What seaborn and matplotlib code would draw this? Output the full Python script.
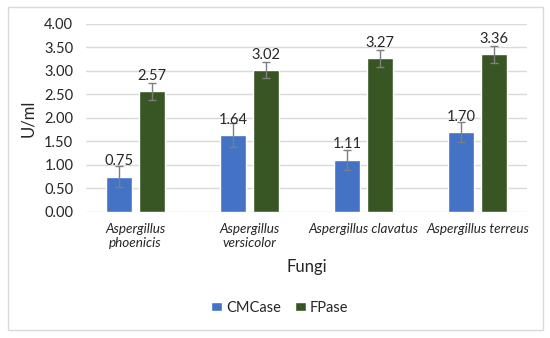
# importing packages
import seaborn as sns
import matplotlib.pyplot as plt
import pandas as pd
from matplotlib.patches import Rectangle

# chart data
fungi = ["Aspergillus\nphoenicis", "Aspergillus\nversicolor",
         "Aspergillus clavatus", "Aspergillus terreus"]
enzymes = ["CMCase", "FPase"]
cmcase = [0.75, 1.64, 1.11, 1.70]
fpase = [2.57, 3.02, 3.27, 3.36]
cmcase_err = [0.22, 0.25, 0.21, 0.22]
fpase_err = [0.18, 0.18, 0.18, 0.18]

df = pd.DataFrame({
    "Fungi": fungi * 2,
    "Enzyme": [enzymes[0]] * 4 + [enzymes[1]] * 4,
    "U/ml": cmcase + fpase,
})

sns.set_style("white")
plt.rcParams["font.family"] = ["Lato", "DejaVu Sans"]

fig = plt.figure(figsize=(5.5, 3.38), dpi=100)
ax = fig.add_axes([0.156, 0.373, 0.802, 0.556])

# outer frame like the Excel chart area
fig.patches.append(Rectangle((8 / 550, 8 / 338), 535 / 550, 323 / 338,
                             transform=fig.transFigure, fill=False,
                             edgecolor="#d9d9d9", linewidth=1))

sns.barplot(data=df, x="Fungi", y="U/ml", hue="Enzyme",
            palette=["#4472C4", "#375623"], saturation=1, width=0.58, gap=0.22,
            ax=ax, errorbar=None, legend=True)

# error bars and value labels
errs = [cmcase_err, fpase_err]
vals = [cmcase, fpase]
bar_groups = list(ax.containers)
for i, cont in enumerate(bar_groups):
    xs = [p.get_x() + p.get_width() / 2 for p in cont.patches]
    ax.errorbar(xs, vals[i], yerr=errs[i], fmt="none", ecolor="#7f7f7f",
                elinewidth=1, capsize=3, capthick=1)
    ax.bar_label(cont, labels=[f"{v:.2f}" for v in vals[i]], padding=6,
                 fontsize=10.5, color="#262626")

ax.set_ylim(0, 4)
ax.set_yticks([0, 0.5, 1, 1.5, 2, 2.5, 3, 3.5, 4])
ax.set_yticklabels([f"{v:.2f}" for v in ax.get_yticks()], fontsize=10.5,
                   color="#262626")
ax.tick_params(axis="x", labelsize=9.7, colors="#262626", length=0, pad=8)
ax.tick_params(axis="y", length=0, pad=9)
for lab in ax.get_xticklabels():
    lab.set_fontstyle("italic")
ax.yaxis.grid(True, color="#d9d9d9", linewidth=1)
ax.set_axisbelow(True)
sns.despine(ax=ax, left=True, bottom=True)

ax.set_xlabel("Fungi", fontsize=12, color="#262626", labelpad=7)
ax.set_ylabel("U/ml", fontsize=12, color="#262626", labelpad=6)

ax.legend(loc="center", bbox_to_anchor=(0.44, -0.51), ncol=2, frameon=False,
          fontsize=10.5, handlelength=0.7, handleheight=0.5, handletextpad=0.3,
          columnspacing=1.0)

plt.savefig("out.png", dpi=100)
